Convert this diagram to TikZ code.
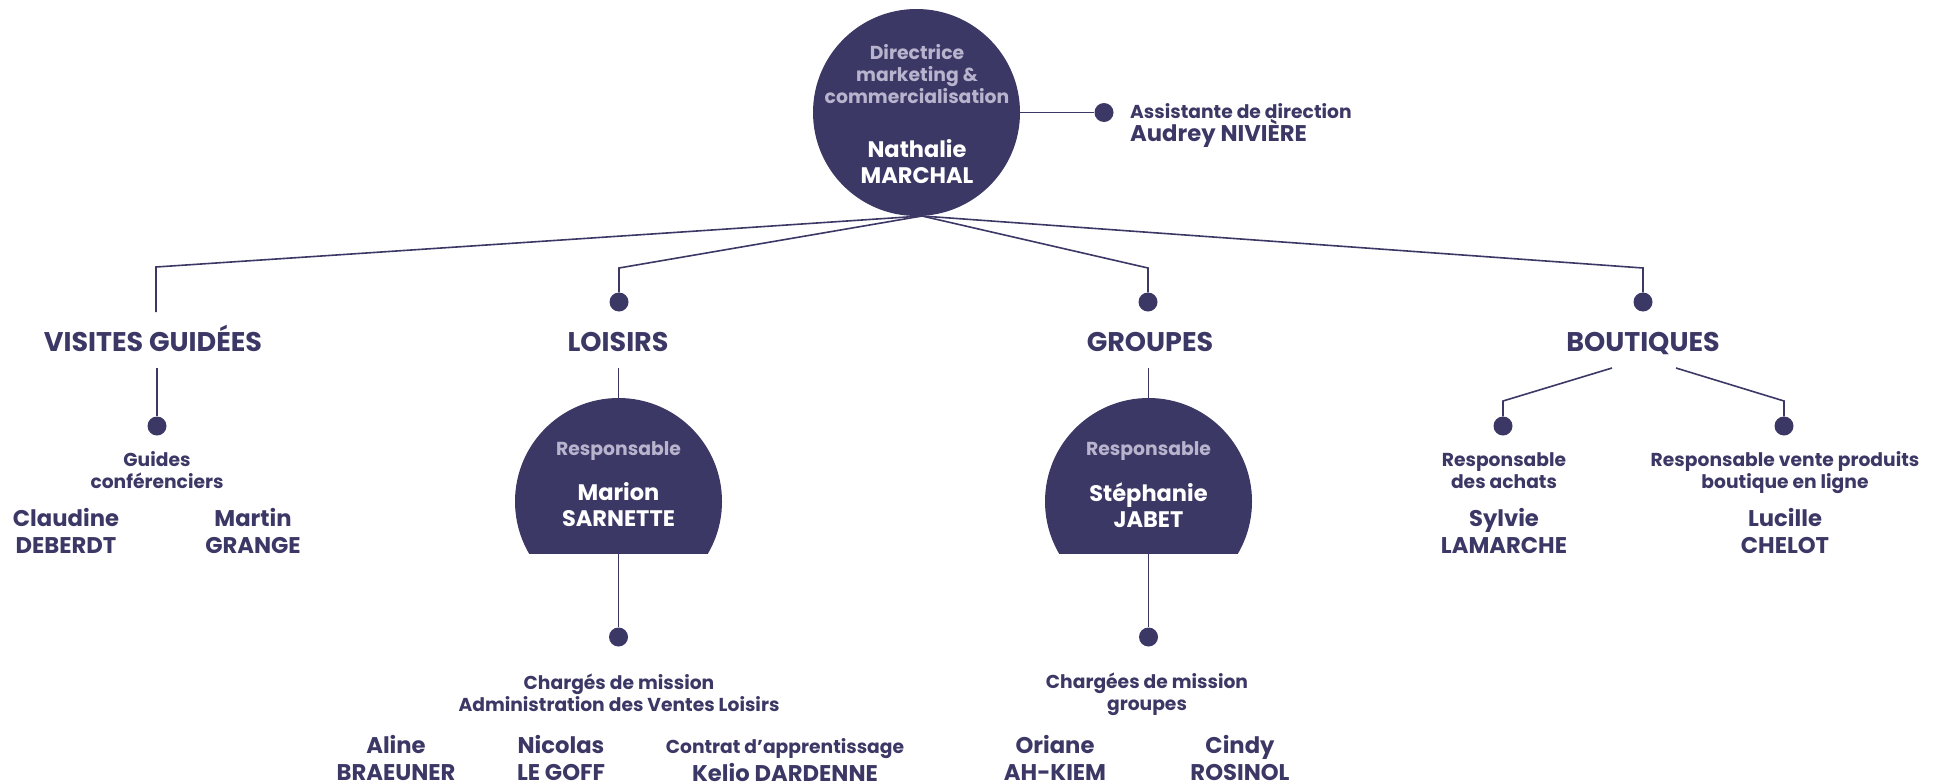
\documentclass[tikz,border=0pt]{standalone}
\usepackage{fontspec}
\setmainfont{Poppins}
\definecolor{navy}{HTML}{3C3866}
\definecolor{lav}{HTML}{B9B4CE}
\begin{document}
\begin{tikzpicture}[x=1pt,y=-1pt,
  conn/.style={draw=navy, line width=1.6pt},
  dotnode/.style={circle, fill=navy, inner sep=0pt, minimum size=19pt},
  bigdisc/.style={circle, fill=navy, inner sep=0pt, minimum size=207pt},
  head/.style={font=\bfseries\fontsize{27}{30}\selectfont, text=navy, inner sep=0pt, anchor=base},
  lab/.style={font=\bfseries\fontsize{18.7}{22}\selectfont, text=navy, align=center, inner sep=0pt},
  pname/.style={font=\bfseries\fontsize{22.7}{27}\selectfont, text=navy, align=center, inner sep=0pt},
  intitle/.style={font=\bfseries\fontsize{18.8}{22}\selectfont, text=lav, align=center, inner sep=0pt},
  inname/.style={font=\bfseries\fontsize{22.5}{26}\selectfont, text=white, align=center, inner sep=0pt}
]
\useasboundingbox (0,0) rectangle (1941,782);

% director
\node[bigdisc] (dir) at (916.5,112.5) {};
\node[intitle] (dirt) at (917,74) {Directrice\\marketing \&\\commercialisation};
\node[inname] (dirn) at (917,162) {Nathalie\\MARCHAL};
\coordinate (apex) at (922,216);

% assistant
\node[dotnode] (adot) at (1104,112.5) {};
\draw[conn] (dir) -- (adot);
\node[lab, anchor=west, align=left] (asst) at (1130,111) {Assistante de direction};
\node[pname, anchor=west, align=left] (asstn) at (1130,133.5) {Audrey NIVIÈRE};

% first level connectors
\coordinate (cV) at (156,267);
\coordinate (eV) at (156,312);
\coordinate (cL) at (619,268);
\coordinate (cG) at (1148,268);
\coordinate (cB) at (1643,268);
\node[dotnode] (dL) at (619,302) {};
\node[dotnode] (dG) at (1148,302) {};
\node[dotnode] (dB) at (1643,302) {};
\draw[conn] (apex) -- (cV) -- (eV);
\draw[conn] (apex) -- (cL) -- (dL);
\draw[conn] (apex) -- (cG) -- (dG);
\draw[conn] (apex) -- (cB) -- (dB);

% headings
\node[head] (hV) at (153,351.5) {VISITES GUIDÉES};
\node[head] (hL) at (618,351.5) {LOISIRS};
\node[head] (hG) at (1150,351.5) {GROUPES};
\node[head] (hB) at (1643,351.5) {BOUTIQUES};

% visites guidees
\coordinate (tV) at (157,368);
\node[dotnode] (dV2) at (157,426) {};
\draw[conn] (tV) -- (dV2);
\node[lab] (gc) at (157,470) {Guides\\conférenciers};
\node[pname] (p1) at (66,531) {Claudine\\DEBERDT};
\node[pname] (p2) at (253,531) {Martin\\GRANGE};

% loisirs
\begin{scope}
\clip (500,390) rectangle (740,553);
\node[bigdisc] (rL) at (618.5,501.5) {};
\end{scope}
\coordinate (tL) at (618.5,368);
\draw[conn] (tL) -- (rL.north);
\node[intitle] (rLt) at (618.5,451.5) {Responsable};
\node[inname] (rLn) at (618.5,505) {Marion\\SARNETTE};
\coordinate (bL) at (618.5,553);
\node[dotnode] (dL2) at (618.5,637) {};
\draw[conn] (bL) -- (dL2);
\node[lab] (cmL) at (619,693) {Chargés de mission\\Administration des Ventes Loisirs};
\node[pname] (p3) at (396,758) {Aline\\BRAEUNER};
\node[pname] (p4) at (561,758) {Nicolas\\LE GOFF};
\node[lab] (p5a) at (785,749) {Contrat d’apprentissage};
\node[pname] (p5) at (785,772) {Kelio DARDENNE};

% groupes
\begin{scope}
\clip (1030,390) rectangle (1270,553);
\node[bigdisc] (rG) at (1148.5,501.5) {};
\end{scope}
\coordinate (tG) at (1148.5,368);
\draw[conn] (tG) -- (rG.north);
\node[intitle] (rGt) at (1148.5,451.5) {Responsable};
\node[inname] (rGn) at (1148.5,505) {Stéphanie\\JABET};
\coordinate (bG) at (1148.5,553);
\node[dotnode] (dG2) at (1148.5,637) {};
\draw[conn] (bG) -- (dG2);
\node[lab] (cmG) at (1147,694.5) {Chargées de mission\\groupes};
\node[pname] (p6) at (1055,758) {Oriane\\AH-KIEM};
\node[pname] (p7) at (1240,758) {Cindy\\ROSINOL};

% boutiques
\coordinate (sB1) at (1612,368);
\coordinate (kB1) at (1503,401);
\coordinate (sB2) at (1676,368);
\coordinate (kB2) at (1784,401);
\node[dotnode] (dB1) at (1503,426) {};
\node[dotnode] (dB2) at (1784,426) {};
\draw[conn] (sB1) -- (kB1) -- (dB1);
\draw[conn] (sB2) -- (kB2) -- (dB2);
\node[lab] (rb1) at (1504,471) {Responsable\\des achats};
\node[lab] (rb2) at (1785,472.5) {Responsable vente produits\\boutique en ligne};
\node[pname] (p8) at (1504,531) {Sylvie\\LAMARCHE};
\node[pname] (p9) at (1785,531) {Lucille\\CHELOT};
\end{tikzpicture}
\end{document}
